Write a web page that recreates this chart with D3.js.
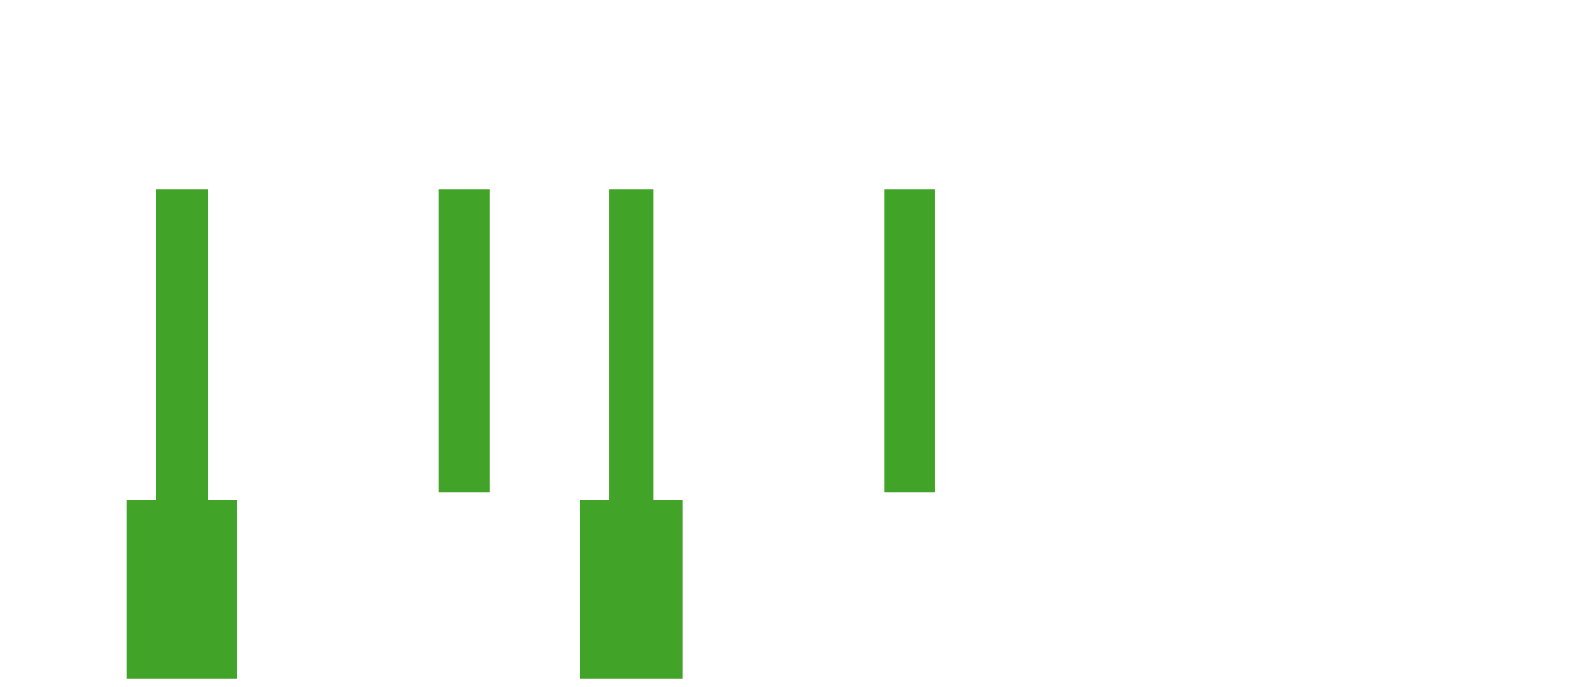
<!DOCTYPE html>
<meta charset="utf-8">
<style>
body { margin: 0; background: #fff; }
svg { display: block; }
.mark { fill: #41a429; }
</style>
<svg width="1582" height="687"></svg>
<script src="https://d3js.org/d3.v7.min.js"></script>
<script>
// stems: one per category, x extent and value range
var stemX0   = [98.6, 277.3, 385.0, 559.0];
var stemX1   = [131.5, 309.6, 413.0, 591.0];
var stemLow  = [36.5, 38.1, 36.5, 38.1];
var stemHigh = [100, 100, 100, 100];

// wide blocks under some stems (null = no block)
var baseX0   = [80.1, null, 366.6, null];
var baseX1   = [149.8, null, 431.5, null];
var baseLow  = [0, null, 0, null];

var svg = d3.select("svg");

var x = d3.scaleLinear().domain([0, 1000]).range([0, 1582]);
var y = d3.scaleLinear().domain([0, 100]).range([678.7, 189.3]);

// outline of each stem, joined with its block when it has one
var shapes = stemX0.map(function(d, i) {
    var pts = [[d, stemHigh[i]], [stemX1[i], stemHigh[i]], [stemX1[i], stemLow[i]]];
    if (baseX0[i] != null) {
        pts.push([baseX1[i], stemLow[i]], [baseX1[i], baseLow[i]],
                 [baseX0[i], baseLow[i]], [baseX0[i], stemLow[i]]);
    }
    pts.push([d, stemLow[i]]);
    return pts;
});

var line = d3.line()
    .x(function(p) { return x(p[0]); })
    .y(function(p) { return y(p[1]); });

svg.selectAll("path.mark")
    .data(shapes)
    .enter().append("path")
        .attr("class", "mark")
        .attr("d", function(d) { return line(d) + "Z"; });
</script>
